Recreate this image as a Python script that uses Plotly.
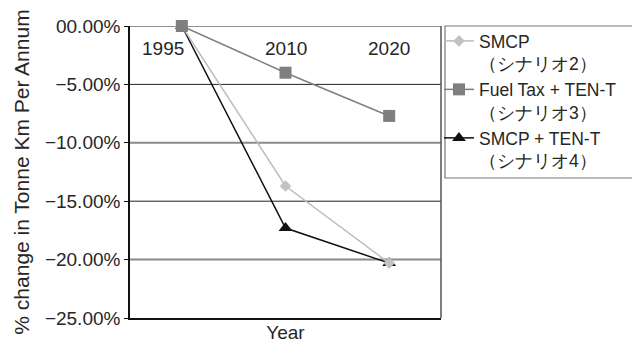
import plotly.graph_objects as go

# Categories and series values (% change in tonne-km per annum)
years = ["1995", "2010", "2020"]
smcp = [0.0, -13.7, -20.3]
fuel_tax_tent = [0.0, -4.0, -7.7]
smcp_tent = [0.0, -17.3, -20.3]

series_names = [
    "SMCP<br>（シナリオ2）",
    "Fuel Tax + TEN-T<br>（シナリオ3）",
    "SMCP + TEN-T<br>（シナリオ4）",
]

# Y-axis ticks
y_tickvals = [0, -5, -10, -15, -20, -25]
y_ticktext = ["00.00%", "−5.00%", "−10.00%", "−15.00%", "−20.00%", "−25.00%"]

FONT = "Liberation Sans, Arial, sans-serif"
TXT = "#262626"
FS = 19

fig = go.Figure()

# drawing order: black series at the bottom, grey square series on top
fig.add_trace(go.Scatter(
    x=years, y=smcp_tent, name=series_names[2], mode="lines+markers",
    line=dict(color="#111111", width=1.5),
    marker=dict(symbol="triangle-up", size=12, color="#111111"),
    cliponaxis=False, legendrank=3,
))
fig.add_trace(go.Scatter(
    x=years, y=smcp, name=series_names[0], mode="lines+markers",
    line=dict(color="#bdbdbd", width=1.5),
    marker=dict(symbol="diamond", size=9, color="#c2c2c2"),
    cliponaxis=False, legendrank=1,
))
fig.add_trace(go.Scatter(
    x=years, y=fuel_tax_tent, name=series_names[1], mode="lines+markers",
    line=dict(color="#7f7f7f", width=1.5),
    marker=dict(symbol="square", size=12, color="#7f7f7f"),
    cliponaxis=False, legendrank=2,
))

# horizontal gridlines: dark and grey alternating
shapes = []
for i, v in enumerate(y_tickvals[:-1]):
    grey = (i % 2 == 0) and v != 0
    shapes.append(dict(
        type="line", xref="paper", yref="y", x0=0, x1=1, y0=v, y1=v,
        line=dict(color="#8a8a8a" if grey else "#222222", width=2 if grey else 1),
        layer="below",
    ))
# right frame edge
shapes.append(dict(
    type="line", xref="paper", yref="paper", x0=1, x1=1, y0=0, y1=1,
    line=dict(color="#555555", width=1.5), layer="below",
))
# legend frame
shapes.append(dict(
    type="rect", xref="paper", yref="paper",
    x0=(445 - 130) / 311, x1=(700 - 130) / 311,
    y0=(318 - 178) / 292, y1=1.0,
    line=dict(color="#777777", width=1.2), layer="above",
))

# year labels inside the plot, just under the zero line
annotations = []
for i, yr in enumerate(years):
    annotations.append(dict(
        x=i, y=0, xref="x", yref="y", text=yr, showarrow=False,
        yshift=-22, xshift=-19 if i == 0 else 0,
        font=dict(family=FONT, size=FS, color=TXT),
    ))

fig.update_layout(
    width=632, height=343,
    margin=dict(l=130, r=191, t=26, b=25, autoexpand=False),
    paper_bgcolor="white", plot_bgcolor="white",
    font=dict(family=FONT, size=FS, color=TXT),
    showlegend=True,
    legend=dict(
        x=(439 - 130) / 311, y=1.0 + 3 / 292, xanchor="left", yanchor="top",
        bgcolor="rgba(0,0,0,0)", borderwidth=0,
        font=dict(family=FONT, size=17.5, color=TXT),
        itemwidth=30, valign="top", tracegroupgap=0,
    ),
    shapes=shapes,
    annotations=annotations,
    xaxis=dict(
        type="category", range=[-0.5, 2.5], showticklabels=False,
        showgrid=False, zeroline=False,
        showline=True, linecolor="#111111", linewidth=1.5,
        ticks="", fixedrange=True,
        title=dict(text="Year", standoff=13, font=dict(family=FONT, size=FS, color=TXT)),
    ),
    yaxis=dict(
        range=[-25, 0], tickvals=y_tickvals, ticktext=y_ticktext,
        showgrid=False, zeroline=False,
        showline=True, linecolor="#111111", linewidth=1.5,
        ticks="outside", ticklen=4, tickcolor="#111111", tickwidth=1,
        tickfont=dict(family=FONT, size=FS, color=TXT),
        title=dict(text="% change in Tonne Km Per Annum", standoff=10,
                   font=dict(family=FONT, size=21, color=TXT)),
    ),
)

fig.write_html("out.html")
